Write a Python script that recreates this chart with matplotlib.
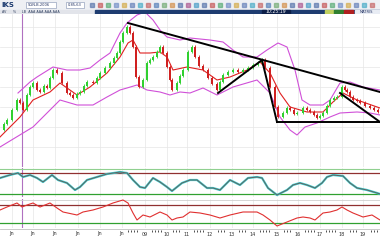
import matplotlib
matplotlib.use("Agg")
import matplotlib.pyplot as plt
from matplotlib.patches import Rectangle

# screen-row readings (smaller = higher price)
close_x = [0, 4, 7, 12, 17, 20, 23, 27, 30, 33, 37, 40, 44, 47, 50, 53, 57, 62, 67, 70,
           73, 77, 80, 84, 87, 93, 97, 100, 105, 110, 114, 117, 120, 123, 127, 130, 133,
           136, 139, 143, 147, 150, 153, 157, 160, 163, 167, 170, 172, 177, 180, 183, 188,
           192, 195, 199, 203, 208, 212, 217, 220, 223, 228, 233, 238, 243, 248, 253, 258,
           262, 265, 270, 275, 278, 283, 287, 290, 294, 297, 303, 307, 310, 314, 317, 320,
           323, 327, 330, 334, 337, 342, 345, 347, 350, 353, 357, 360, 365, 370, 374, 378]
close_y = [130, 124, 120, 110, 100, 103, 110, 95, 87, 83, 90, 92, 86, 88, 78, 70, 73, 83, 93, 95,
           98, 94, 92, 86, 82, 83, 78, 73, 68, 63, 58, 53, 42, 33, 27, 33, 47,
           77, 87, 80, 63, 60, 57, 52, 47, 53, 67, 80, 90, 83, 76, 70, 52,
           47, 57, 66, 70, 78, 84, 90, 82, 75, 72, 70, 72, 70, 68, 65, 63,
           60, 68, 87, 107, 117, 113, 108, 110, 114, 113, 108, 110, 112, 115, 118, 116,
           113, 106, 100, 98, 97, 87, 90, 92, 97, 100, 101, 103, 106, 108, 110, 112]

upper_x = [18, 30, 37, 53, 67, 80, 90, 100, 110, 120, 127, 137, 145, 153, 160, 167, 180, 190,
           210, 223, 233, 243, 257, 267, 278, 287, 295, 302, 310, 323, 330, 340, 350, 363, 380]
upper_y = [93, 82, 77, 67, 70, 70, 68, 60, 53, 33, 23, 15, 12, 20, 30, 37, 40, 38,
           40, 42, 50, 57, 57, 50, 43, 47, 70, 100, 105, 105, 100, 83, 82, 87, 90]

lower_x = [0, 33, 50, 60, 77, 93, 107, 120, 127, 137, 147, 160, 170, 180, 190, 203, 217, 233,
           257, 270, 280, 290, 297, 305, 317, 330, 340, 357, 370, 380]
lower_y = [147, 127, 110, 100, 105, 105, 97, 90, 88, 85, 90, 92, 95, 92, 93, 88, 95, 87,
           80, 93, 117, 130, 135, 127, 123, 117, 113, 112, 113, 115]

ma_x = [0, 20, 33, 50, 60, 77, 90, 107, 120, 128, 133, 140, 150, 160, 167, 173, 187, 203,
        217, 230, 247, 260, 270, 280, 290, 307, 323, 333, 343, 357, 380]
ma_y = [137, 117, 100, 92, 83, 95, 87, 73, 57, 43, 40, 53, 53, 52, 57, 70, 67, 70,
        80, 77, 70, 62, 73, 93, 107, 112, 112, 102, 93, 100, 108]

# trend lines drawn on the chart: (x0, y0, x1, y1)
trend_lines = [(128, 23, 380, 92), (218, 93, 262, 60), (262, 60, 277, 122),
               (277, 122, 380, 122), (340, 93, 380, 122)]

osc1_x = [0, 10, 18, 23, 30, 37, 43, 52, 58, 67, 75, 80, 87, 97, 107, 120, 127, 133, 140, 145,
          153, 160, 167, 172, 177, 182, 190, 197, 207, 213, 220, 230, 240, 248, 257, 262,
          268, 277, 287, 293, 300, 307, 315, 322, 327, 333, 343, 350, 357, 367, 377, 380]
osc1_y = [178, 175, 173, 177, 175, 178, 182, 175, 180, 183, 190, 187, 180, 177, 174, 172, 173,
          180, 187, 188, 178, 182, 187, 191, 187, 183, 180, 180, 188, 188, 190, 180, 185, 178,
          177, 178, 188, 195, 190, 185, 183, 185, 188, 183, 177, 175, 176, 183, 188, 190, 193, 194]

osc2_x = [0, 7, 17, 22, 27, 33, 40, 50, 57, 63, 77, 83, 93, 103, 113, 123, 128, 133, 137, 143,
          150, 160, 167, 172, 177, 183, 190, 200, 210, 220, 230, 243, 257, 263, 270, 277,
          287, 297, 303, 310, 315, 323, 330, 337, 342, 347, 353, 363, 372, 380]
osc2_y = [210, 207, 203, 207, 205, 203, 207, 203, 208, 212, 215, 212, 210, 207, 203, 200, 203,
          213, 220, 215, 217, 212, 215, 220, 218, 217, 212, 213, 215, 218, 215, 212, 212, 215,
          220, 226, 222, 218, 217, 218, 220, 213, 212, 210, 207, 210, 213, 217, 215, 220]

tick_x = [12, 33, 55, 78, 100, 122, 145, 167, 187, 210, 232, 253, 277, 298, 320, 342, 363]
tick_labels = ["Jn", "Jn", "Jn", "Jn", "Jn", "Jn", "09", "10", "11", "12", "13", "14",
               "15", "16", "17", "18", "19"]

W, H = 380, 240
fig = plt.figure(figsize=(3.8, 2.4), dpi=100)
fig.patch.set_facecolor("white")


def add_panel(top, bottom):
    ax = fig.add_axes([0, (H - bottom) / H, 1, (bottom - top) / H])
    ax.set_xlim(0, W)
    ax.set_ylim(bottom, top)
    ax.set_xticks([])
    ax.set_yticks([])
    for s in ax.spines.values():
        s.set_visible(False)
    for x in tick_x:
        ax.axvline(x, color="#e6e6e6", lw=0.5, zorder=0)
    ax.axvline(22, color="#b070c0", lw=0.8, zorder=1)
    return ax


# main price panel
ax = add_panel(14, 167)
for y in range(27, 167, 20):
    ax.axhline(y, color="#e6e6e6", lw=0.5, zorder=0)
ax.plot(upper_x, upper_y, color="#d050d8", lw=0.8)
ax.plot(lower_x, lower_y, color="#d050d8", lw=0.8)
ax.plot(ma_x, ma_y, color="#e02020", lw=0.8)
for i in range(1, len(close_x)):
    o, c = close_y[i - 1], close_y[i]
    col = "#30d030" if c <= o else "#d02020"
    ax.vlines(close_x[i], min(o, c) - 1.5, max(o, c) + 1.5, color=col, lw=0.6, zorder=3)
    ax.bar(close_x[i], max(abs(c - o), 1), bottom=min(o, c), width=1.5, color=col, zorder=3)
for x0, y0, x1, y1 in trend_lines:
    ax.plot([x0, x1], [y0, y1], color="black", lw=1.4, zorder=4)

# first oscillator
ax1 = add_panel(168, 197)
ax1.axhline(168.5, color="#90d090", lw=0.8)
ax1.axhline(173, color="#903030", lw=0.9)
ax1.axhline(194, color="#30a030", lw=0.9)
ax1.plot(osc1_x, osc1_y, color="#40d0d0", lw=1.6)
ax1.plot(osc1_x, osc1_y, color="#606060", lw=0.7)

# second oscillator
ax2 = add_panel(199, 228)
ax2.axhline(199.5, color="#d0d0d0", lw=0.6)
ax2.axhline(205, color="#903030", lw=0.9)
ax2.axhline(223, color="#30a030", lw=0.9)
ax2.plot(osc2_x, osc2_y, color="#e03030", lw=0.8)

# x axis strip
axx = fig.add_axes([0, 0, 1, 12 / H])
axx.set_xlim(0, W)
axx.set_ylim(12, 0)
axx.axis("off")
axx.axhline(0.5, color="#c0c0c0", lw=0.6)
for x, lab in zip(tick_x, tick_labels):
    axx.text(x, 6, lab, fontsize=3.5, ha="center", va="center", color="#333333")
for x in range(128, 380, 3):
    if all(abs(x - t) > 5 for t in tick_x):
        axx.vlines(x, 1.5, 3.5, color="#333333", lw=0.6)

# toolbar
axt = fig.add_axes([0, (H - 14) / H, 1, 14 / H])
axt.set_xlim(0, W)
axt.set_ylim(14, 0)
axt.axis("off")
axt.add_patch(Rectangle((0, 0), W, 10, color="#eef0f4"))
axt.add_patch(Rectangle((0, 10), 95, 4, color="#e2e4ea"))
axt.add_patch(Rectangle((95, 10), 285, 4, color="#1e3c70"))
axt.add_patch(Rectangle((262, 9.5), 28, 4.5, color="#0c1f48"))
axt.text(276, 11.8, "10:25:19", fontsize=3.3, color="white", ha="center", va="center")
axt.text(1, 5, "IKS", fontsize=5, color="#1e3c70", fontweight="bold", va="center")
axt.add_patch(Rectangle((26, 1.5), 30, 6, facecolor="white", edgecolor="#8090b0", lw=0.4))
axt.text(28, 4.6, "SGN-B-2006", fontsize=2.6, color="#203060", va="center")
axt.add_patch(Rectangle((66, 1.5), 18, 6, facecolor="white", edgecolor="#8090b0", lw=0.4))
axt.text(68, 4.6, "0,85,63", fontsize=2.6, color="#203060", va="center")
axt.text(2, 12, "AV      %     LB  AAA AAA AAA AAA", fontsize=2.4, color="#304060", va="center")
icon_cols = ["#4060a0", "#c04040", "#40a060", "#6080c0", "#d0a030", "#5070b0", "#30a0c0",
             "#c05050", "#4070b0", "#60a060", "#d08030", "#4060a0", "#a04080", "#3090c0"]
for k, x in enumerate(range(90, 378, 8)):
    axt.add_patch(Rectangle((x, 3), 3.5, 3.5, color=icon_cols[k % len(icon_cols)], alpha=0.55))
axt.add_patch(Rectangle((325, 10.2), 8, 3.5, color="#c0d060"))
axt.add_patch(Rectangle((334, 10.2), 9, 3.5, color="#308030"))
axt.add_patch(Rectangle((344, 10.2), 9, 3.5, color="#b02020"))
axt.add_patch(Rectangle((355, 10.2), 25, 3.5, color="#e8ecf4"))
axt.text(366, 12, "MATRIS", fontsize=2.6, color="#203060", ha="center", va="center")

fig.savefig("out.png", dpi=100)
